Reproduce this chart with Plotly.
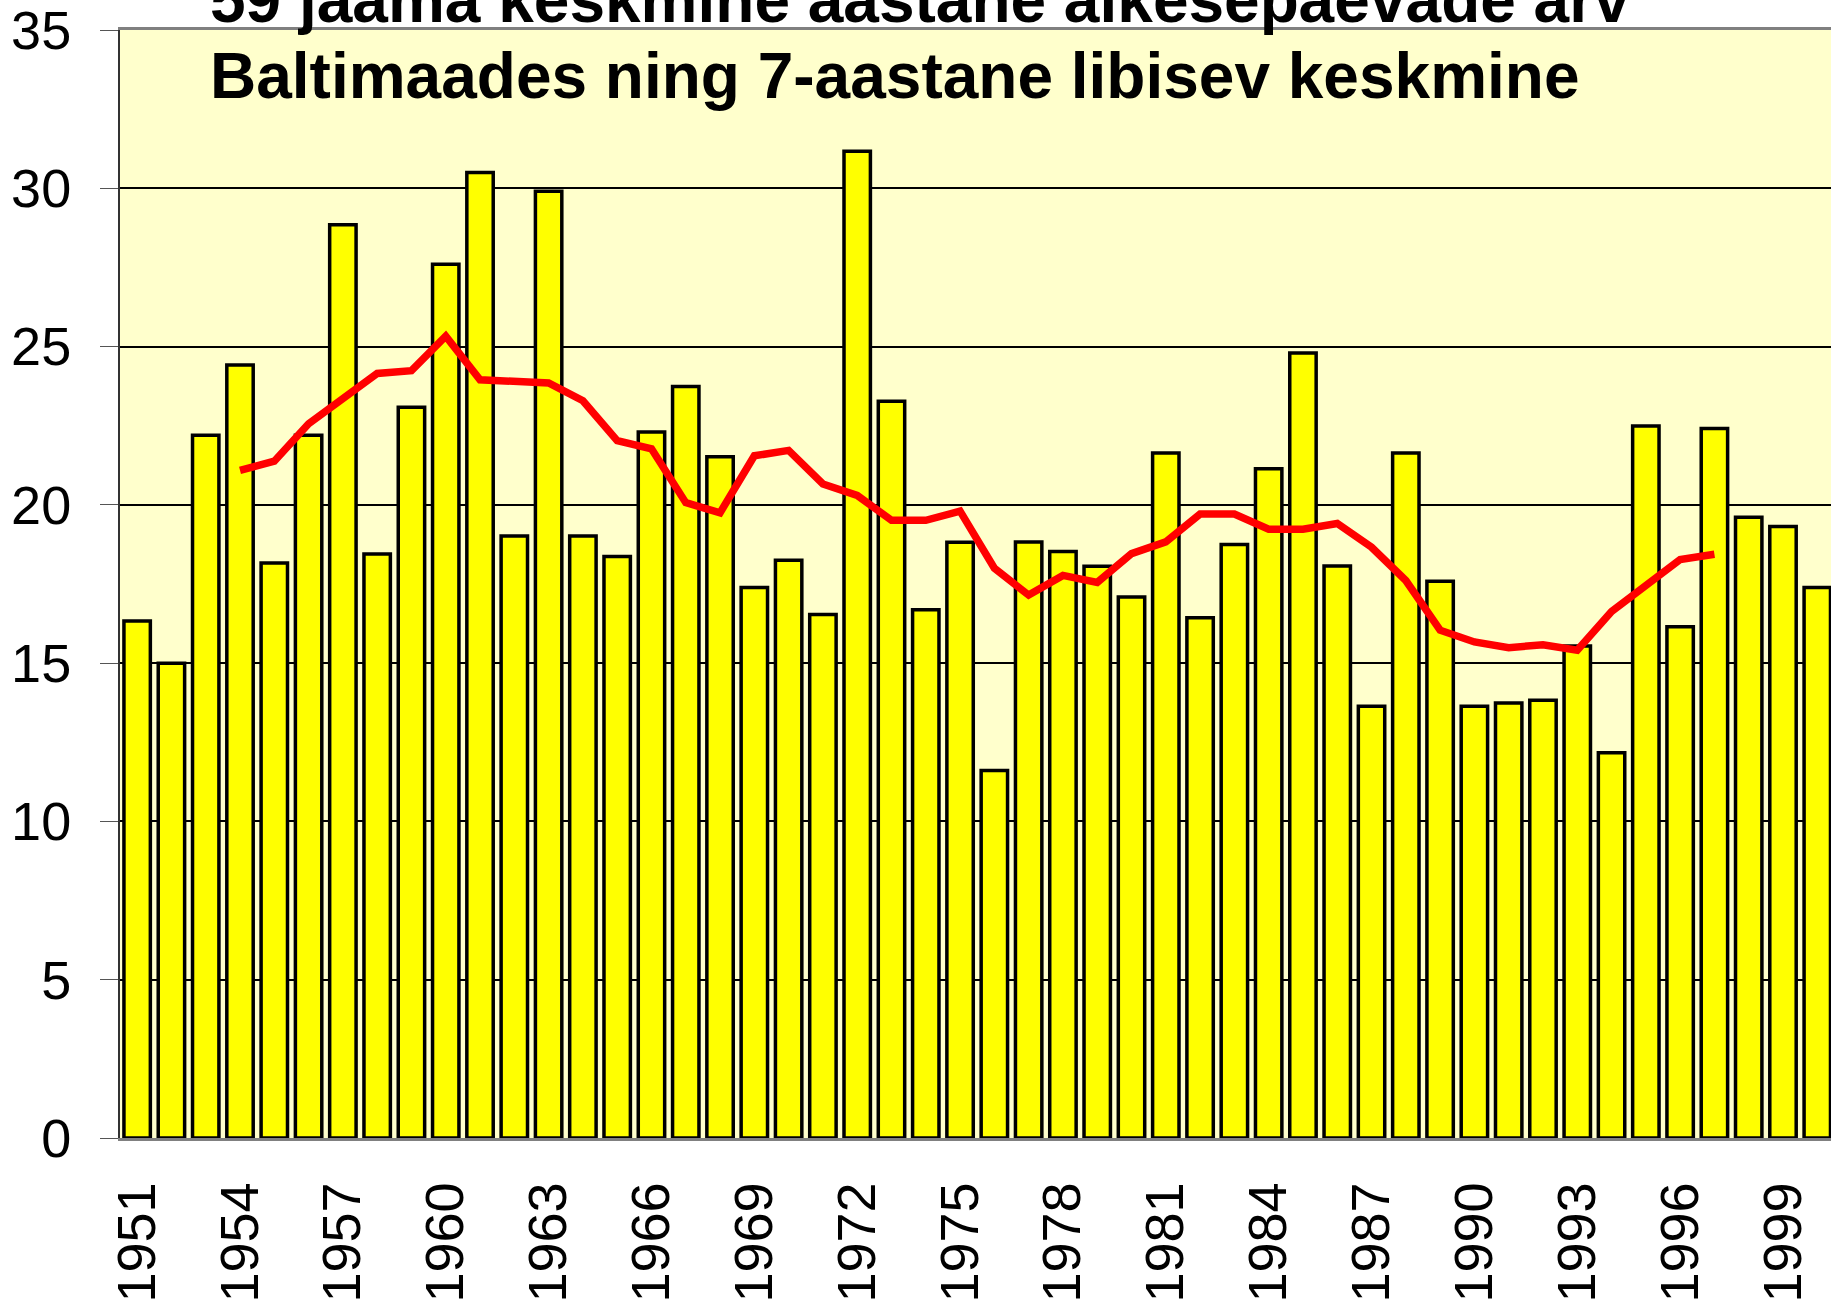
import plotly.graph_objects as go

years = list(range(1951, 2001))
days = [16.33, 15.0, 22.2, 24.42, 18.16, 22.2, 28.85, 18.45, 23.08, 27.6,
        30.5, 19.02, 29.91, 19.02, 18.37, 22.3, 23.74, 21.52, 17.39, 18.25,
        16.54, 31.17, 23.27, 16.69, 18.82, 11.61, 18.83, 18.53, 18.06, 17.09,
        21.64, 16.43, 18.75, 21.14, 24.8, 18.07, 13.64, 21.64, 17.59, 13.64,
        13.74, 13.83, 15.54, 12.17, 22.49, 16.15, 22.41, 19.61, 19.32, 17.39]

ma_years = list(range(1954, 1998))
ma_values = [21.09, 21.38, 22.56, 23.32, 24.15, 24.24, 25.33, 23.95, 23.92, 23.85,
             23.29, 22.03, 21.77, 20.07, 19.75, 21.55, 21.72, 20.66, 20.3, 19.51,
             19.51, 19.8, 18.0, 17.15, 17.77, 17.55, 18.46, 18.83, 19.71, 19.71,
             19.23, 19.23, 19.41, 18.66, 17.61, 16.04, 15.67, 15.49, 15.58, 15.41,
             16.63, 17.48, 18.27, 18.44]

label_years = list(range(1951, 2001, 3))
y_ticks = [0, 5, 10, 15, 20, 25, 30, 35]
title_line1 = "59 jaama keskmine aastane äikesepäevade arv"
title_line2 = "Baltimaades ning 7-aastane libisev keskmine"

W, H = 1831, 1301
L, R, T, B = 120, 0, 30, 163
x_range = [1950.5, 2000.4]
FONT = "Liberation Sans, Arial, sans-serif"

fig = go.Figure()
fig.add_trace(go.Bar(
    x=years, y=days, width=0.77,
    marker=dict(color="#FFFF00", line=dict(color="#000000", width=3.5)),
    showlegend=False,
))
fig.add_trace(go.Scatter(
    x=ma_years, y=ma_values, mode="lines",
    line=dict(color="#FF0000", width=7.5),
    showlegend=False,
))

boundaries = [y - 0.5 for y in years] + [years[-1] + 0.5]

fig.update_layout(
    width=W, height=H,
    margin=dict(l=L, r=R, t=T, b=B, pad=0, autoexpand=False),
    paper_bgcolor="#FFFFFF",
    plot_bgcolor="#FFFFCC",
    font=dict(family=FONT, color="#000000"),
    xaxis=dict(
        range=x_range, tickmode="array", tickvals=label_years,
        ticktext=[str(y) for y in label_years],
        tickangle=-90, ticks="", showgrid=False, zeroline=False,
        tickfont=dict(size=54, family=FONT),
        ticklabelstandoff=20, automargin=False,
        ticklabeloverflow="allow",
        showline=True, linecolor="#808080", linewidth=2.5, mirror=True,
    ),
    xaxis2=dict(
        range=x_range, overlaying="x", anchor="y", side="bottom",
        tickmode="array", tickvals=boundaries, showticklabels=False,
        ticks="outside", ticklen=18, tickwidth=1.2, tickcolor="#555555",
        showgrid=False, zeroline=False, showline=False, automargin=False,
    ),
    yaxis=dict(
        range=[0, 35], tickmode="array", tickvals=y_ticks,
        ticks="outside", ticklen=18, tickwidth=1.2, tickcolor="#555555",
        showgrid=True, gridcolor="#000000", gridwidth=1.5,
        zeroline=False, showline=True, linecolor="#333333", linewidth=2,
        tickfont=dict(size=54, family=FONT),
        ticklabelstandoff=18, automargin=False,
        ticklabeloverflow="allow",
    ),
    bargap=0.23,
)

plot_h = H - T - B
plot_w = W - L - R

def px_to_paper_x(px):
    return (px - L) / plot_w

def px_to_paper_y(px):
    return (H - B - px) / plot_h

fig.add_annotation(
    text=f"<b>{title_line1}</b>", xref="paper", yref="paper",
    x=px_to_paper_x(208), y=px_to_paper_y(0), xanchor="left", yanchor="middle",
    showarrow=False, font=dict(size=64, family=FONT, color="#000000"),
)
fig.add_annotation(
    text=f"<b>{title_line2}</b>", xref="paper", yref="paper",
    x=px_to_paper_x(208), y=px_to_paper_y(76), xanchor="left", yanchor="middle",
    showarrow=False, font=dict(size=64, family=FONT, color="#000000"),
)

fig.write_html(
    "out.html",
    config={"displayModeBar": False},
    post_script="document.body.style.margin='0';document.body.style.overflow='hidden';",
)
